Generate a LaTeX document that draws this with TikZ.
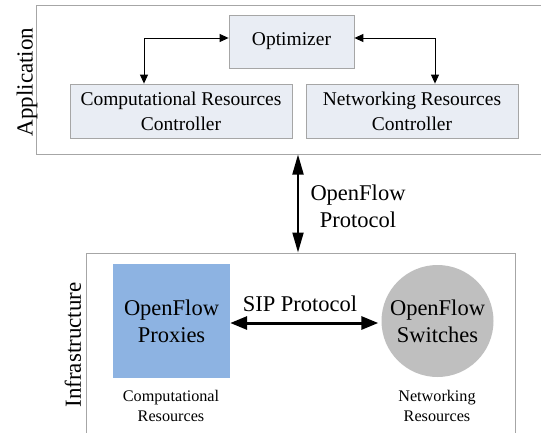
\documentclass[tikz,border=0pt]{standalone}
\usepackage{fontspec}
\setmainfont{Liberation Serif}
\usetikzlibrary{arrows.meta}
\definecolor{boxfill}{HTML}{E9EDF4}
\definecolor{boxline}{HTML}{A6A6A6}
\definecolor{proxyblue}{HTML}{8DB3E2}
\definecolor{switchgray}{HTML}{BFBFBF}
\tikzset{
  layer/.style={draw=boxline, line width=1pt, fill=white, inner sep=0pt},
  ctrl/.style={draw=boxline, line width=0.8pt, fill=boxfill, inner sep=0pt, align=center,
    font=\fontsize{19.5}{25}\selectfont},
  thinarr/.style={line width=1pt, {Triangle[length=9pt,width=8pt]}-{Triangle[length=9pt,width=8pt]}},
  bigarr/.style={line width=2pt, {Triangle[length=20pt,width=11pt]}-{Triangle[length=20pt,width=11pt]}},
  sigarr/.style={line width=3pt, {Triangle[length=17pt,width=13pt]}-{Triangle[length=17pt,width=13pt]}},
  biglabel/.style={align=center, font=\fontsize{22.5}{27}\selectfont},
  smalllabel/.style={align=center, font=\fontsize{16.2}{20}\selectfont},
  sidelabel/.style={rotate=90, font=\fontsize{23}{27}\selectfont},
}
\begin{document}
\begin{tikzpicture}[x=1pt, y=-1pt]
\useasboundingbox (0,0) rectangle (541,432);
\clip (0,0) rectangle (541,432);

% application layer
\node[layer, minimum width=510pt, minimum height=149pt] (app) at (291,79.5) {};
\node[sidelabel] (applbl) at (27,82) {Application};
\node[ctrl, minimum width=125pt, minimum height=53pt] (opt) at (291.5,41.5) {Optimizer};
\node[ctrl, minimum width=222pt, minimum height=54pt] (comp) at (181,111) {Computational Resources\\Controller};
\node[ctrl, minimum width=212pt, minimum height=54pt] (net) at (412,111) {Networking Resources\\Controller};

\coordinate (cl) at (144,38);
\coordinate (cr) at (435,38);
\draw[thinarr] (cl|-comp.north) -- (cl) -- (opt.west|-cl);
\draw[thinarr] (opt.east|-cr) -- (cr) -- (cr|-net.north);

% infrastructure layer
\node[layer, minimum width=429pt, minimum height=190pt] (inf) at (300.5,348) {};
\node[sidelabel] (inflbl) at (73,345) {Infrastructure};
\node[draw=none, fill=proxyblue, minimum width=117pt, minimum height=114pt, inner sep=0pt,
  biglabel] (prox) at (171.5,321) {OpenFlow\\Proxies};
\node[circle, fill=switchgray, minimum size=112pt, inner sep=0pt, biglabel] (sw) at (437.5,321) {OpenFlow\\Switches};
\node[smalllabel] (complbl) at (171,406) {Computational\\Resources};
\node[smalllabel] (netlbl) at (437,406) {Networking\\Resources};

\draw[sigarr, shorten >=3pt] ([yshift=-2pt]prox.east) -- ([yshift=-2pt]sw.west);
\node[biglabel] (sip) at (300,304) {SIP Protocol};

% layer-to-layer protocol
\coordinate (vx) at (298,200);
\draw[bigarr] (app.south-|vx) -- (inf.north-|vx);
\node[biglabel] (ofp) at (358,206) {OpenFlow\\Protocol};
\end{tikzpicture}
\end{document}
